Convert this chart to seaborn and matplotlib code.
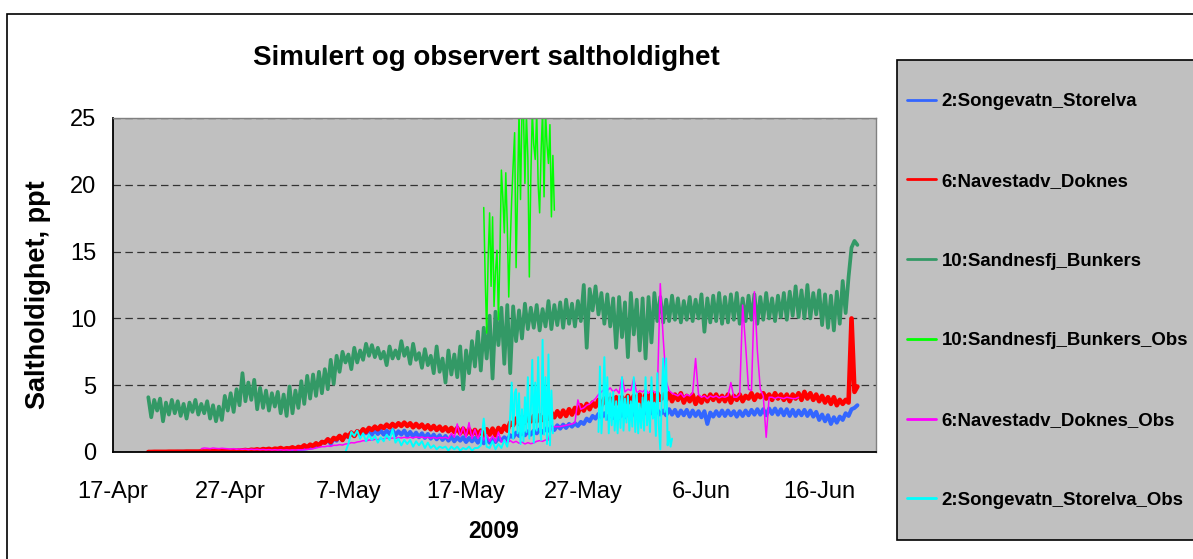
import numpy as np
import pandas as pd
import matplotlib.pyplot as plt
import matplotlib.dates as mdates
from matplotlib.lines import Line2D
from matplotlib.patches import Rectangle
from matplotlib.ticker import FuncFormatter
import seaborn as sns

sns.set_style("white")
plt.rcParams['font.family'] = ['Liberation Sans', 'DejaVu Sans']
plt.rcParams['text.color'] = 'black'
plt.rcParams['xtick.color'] = 'black'
plt.rcParams['ytick.color'] = 'black'
plt.rcParams['xtick.labelcolor'] = 'black'
plt.rcParams['ytick.labelcolor'] = 'black'

# ---- data (salinity, ppt) ----
# simulated series: 6-hourly from 2009-04-20 00:00
sim_start = "2009-04-20 00:00"

sim_bunkers = [
    4.1, 2.6, 3.9, 3.1,  4.0, 2.3, 3.7, 2.8,  3.9, 2.9, 3.8, 2.7,  3.6, 2.5, 3.7, 3.0,
    3.9, 2.8, 3.6, 2.9,  3.8, 2.5, 3.5, 2.3,  3.4, 2.4, 4.2, 3.1,  4.4, 3.0, 4.7, 3.5,
    5.9, 3.8, 5.2, 3.9,  5.4, 3.2, 4.8, 3.3,  4.6, 3.1, 4.4, 3.4,               # Apr 20-30
    4.5, 2.9, 4.3, 2.7,  4.9, 2.9, 4.6, 3.3,  5.3, 3.6, 5.7, 4.0,  5.8, 4.2, 6.0, 4.4,
    6.2, 4.7, 6.9, 5.1,  7.2, 6.0, 7.5, 6.7,  7.3, 6.2, 7.8, 6.7,  7.6, 6.9, 8.1, 7.2,
    8.0, 7.1, 7.8, 7.0,  7.5, 6.5, 7.9, 7.0,  7.6, 7.0, 8.3, 7.2,  7.8, 6.6, 8.1, 6.9,
    7.4, 6.3, 7.7, 6.5,  7.2, 5.9, 7.9, 6.0,  7.0, 5.2, 7.6, 5.8,  7.3, 5.6, 7.9, 4.7,
    7.6, 5.9, 8.3, 6.4,  9.0, 6.1, 9.3, 7.0, 10.2, 5.5, 10.5, 8.0, 10.8, 6.6, 11.0, 5.9,
    10.9, 8.3, 10.6, 8.5, 11.1, 9.2, 10.8, 9.3, 11.0, 9.1, 10.7, 9.4, 11.3, 9.2, 11.0, 9.5,
    11.2, 9.3, 11.4, 9.6, 11.1, 9.4, 11.3, 9.8, 12.5, 7.8, 12.2, 10.6, 12.4, 10.3, 11.9, 9.6,
    11.8, 9.4, 11.5, 7.8, 11.6, 8.6, 11.2, 7.1, 11.9, 8.8, 11.4, 7.6,          # May 1-31
    11.5, 7.0, 11.6, 8.2, 11.9, 9.8, 11.6, 9.7, 11.4, 9.8, 11.7, 9.9, 11.5, 9.7, 11.3, 9.9,
    11.6, 9.8, 11.4, 10.0, 11.8, 9.0, 11.5, 9.7, 11.7, 9.8, 11.9, 9.6, 11.6, 9.7, 11.8, 9.9,
    11.9, 9.6, 11.5, 9.8, 11.7, 9.9, 11.8, 9.6, 11.6, 9.9, 11.9, 10.0, 11.5, 9.8, 11.7, 10.1,
    11.9, 9.9, 12.0, 10.2, 12.4, 10.1, 12.1, 10.0, 12.5, 10.0, 11.9, 10.3, 12.1, 9.5, 11.8, 9.3,
    11.7, 9.1, 12.0, 9.6, 12.8, 10.4, 13.1, 15.3,                             # Jun 1-18
    15.8, 15.5,
]

sim_doknes = [
    0.00, 0.00, 0.01, 0.01, 0.01, 0.01, 0.01, 0.02, 0.02, 0.02, 0.02, 0.02, 0.02, 0.03, 0.03, 0.03,
    0.03, 0.03, 0.04, 0.04, 0.04, 0.05, 0.05, 0.05, 0.06, 0.06, 0.07, 0.07, 0.08, 0.10, 0.09, 0.12,
    0.12, 0.15, 0.11, 0.17, 0.15, 0.20, 0.14, 0.22, 0.18, 0.24, 0.16, 0.25,
    0.22, 0.30, 0.20, 0.28, 0.26, 0.35, 0.24, 0.38, 0.32, 0.50, 0.35, 0.55, 0.45, 0.65, 0.50, 0.75,
    0.70, 0.95, 0.75, 1.05, 0.95, 1.20, 0.90, 1.30, 1.15, 1.45, 1.20, 1.55, 1.40, 1.70, 1.50, 1.80,
    1.65, 1.90, 1.70, 1.95, 1.80, 2.05, 1.85, 2.10, 1.90, 2.15, 1.95, 2.20, 1.95, 2.15, 1.85, 2.10,
    1.85, 2.05, 1.75, 2.00, 1.70, 1.95, 1.65, 1.90, 1.60, 1.85, 1.55, 1.80, 1.50, 1.80, 1.40, 1.75,
    1.35, 1.70, 1.30, 1.65, 1.25, 1.60, 1.20, 1.70, 1.30, 1.75, 1.25, 1.80, 1.50, 1.95, 1.60, 2.20,
    2.00, 2.50, 2.10, 2.60, 2.20, 2.60, 2.30, 2.70, 2.30, 2.75, 2.40, 2.80, 2.50, 2.95, 2.60, 3.05,
    2.65, 3.10, 2.70, 3.20, 2.80, 3.30, 2.90, 3.50, 3.10, 3.60, 3.20, 3.70, 3.40, 3.90, 3.50, 4.00,
    3.50, 4.00, 3.60, 4.10, 3.60, 4.10, 3.70, 4.20, 3.70, 4.20, 3.80, 4.30,
    3.40, 4.30, 3.90, 4.50, 3.80, 4.40, 3.90, 4.30, 3.90, 4.40, 3.80, 4.30, 3.90, 4.40, 3.70, 4.20,
    3.80, 4.30, 3.60, 4.10, 3.70, 4.20, 3.80, 4.30, 3.90, 4.30, 3.80, 4.20, 3.80, 4.30, 3.70, 4.20,
    3.90, 4.30, 3.80, 4.20, 4.00, 4.40, 3.90, 4.30, 4.10, 4.40, 4.00, 4.30, 3.90, 4.40, 4.00, 4.30,
    3.90, 4.30, 3.80, 4.30, 4.00, 4.40, 3.90, 4.50, 4.00, 4.40, 3.90, 4.30, 3.80, 4.20, 3.70, 4.10,
    3.60, 4.10, 3.50, 3.90, 3.60, 3.90, 3.70, 10.0,
    4.50, 4.90,
]

sim_storelva = [
    0.00, 0.00, 0.00, 0.00, 0.00, 0.00, 0.00, 0.00, 0.00, 0.00, 0.01, 0.01, 0.01, 0.01, 0.01, 0.01,
    0.01, 0.01, 0.02, 0.02, 0.02, 0.02, 0.02, 0.03, 0.03, 0.03, 0.04, 0.04, 0.04, 0.05, 0.05, 0.06,
    0.06, 0.07, 0.07, 0.08, 0.08, 0.09, 0.09, 0.10, 0.10, 0.11, 0.12, 0.13,
    0.13, 0.14, 0.15, 0.16, 0.17, 0.18, 0.20, 0.21, 0.23, 0.25, 0.28, 0.32, 0.36, 0.45, 0.55, 0.75,
    0.70, 0.95, 0.60, 1.00, 0.85, 1.20, 0.90, 1.25, 1.10, 1.45, 1.20, 1.55, 1.35, 1.65, 1.40, 1.70,
    1.30, 1.65, 1.35, 1.60, 1.30, 1.60, 1.35, 1.65, 1.25, 1.55, 1.30, 1.60, 1.20, 1.50, 1.15, 1.45,
    1.10, 1.40, 1.05, 1.35, 1.00, 1.30, 0.95, 1.25, 0.90, 1.20, 0.85, 1.15, 0.80, 1.10, 0.85, 1.10,
    0.75, 1.05, 0.80, 1.05, 0.70, 1.00, 0.65, 1.00, 0.70, 1.00, 0.75, 1.05, 0.85, 1.10, 0.90, 1.25,
    1.10, 1.45, 1.20, 1.50, 1.25, 1.55, 1.30, 1.60, 1.40, 1.70, 1.45, 1.75, 1.60, 1.90, 1.65, 2.00,
    1.75, 2.05, 1.80, 2.10, 1.90, 2.15, 1.95, 2.25, 2.10, 2.50, 2.30, 2.70, 2.50, 2.85, 2.60, 2.90,
    2.50, 2.85, 2.55, 2.90, 2.55, 2.90, 2.60, 2.95, 2.60, 3.00, 2.65, 3.00,
    2.70, 3.10, 2.75, 3.10, 2.70, 3.15, 2.80, 3.10, 2.75, 3.20, 2.80, 3.15, 2.70, 3.10, 2.75, 3.15,
    2.65, 3.10, 2.70, 3.05, 2.60, 3.05, 2.10, 2.95, 2.65, 3.05, 2.70, 3.10, 2.70, 3.10, 2.75, 3.05,
    2.65, 3.05, 2.70, 3.10, 2.75, 3.15, 2.80, 3.20, 2.80, 3.20, 2.75, 3.25, 2.85, 3.25, 2.80, 3.20,
    2.75, 3.20, 2.70, 3.15, 2.70, 3.10, 2.75, 3.15, 2.70, 3.10, 2.65, 3.00, 2.40, 2.80, 2.30, 2.75,
    2.10, 2.60, 2.20, 2.65, 2.40, 2.90, 2.70, 3.20,
    3.30, 3.50,
]

# observed: Bunkers, 3-hourly from 2009-05-18 12:00
obs_bunkers_start = "2009-05-18 12:00"
obs_bunkers = [
    18.3, 13.0, 8.9, 14.5, 17.9, 12.4, 17.6, 10.9, 13.5, 15.1, 9.9, 14.8, 21.1, 19.0, 16.4, 20.9,
    17.0, 11.6, 15.5, 18.9, 21.5, 23.9, 13.8, 19.5, 25.5, 18.9, 25.5, 25.5, 20.1, 25.3, 22.0, 13.1,
    20.5, 25.5, 23.0, 21.9, 25.5, 20.0, 17.9, 22.5, 25.5, 19.1, 25.5, 23.0, 21.6, 24.5, 17.6, 22.2,
    18.1,
]

# observed: Doknes, 6-hourly from 2009-04-24 12:00
obs_doknes_start = "2009-04-24 12:00"
obs_doknes = [
    0.25, 0.30,
    0.28, 0.25, 0.30, 0.27, 0.25, 0.28, 0.26, 0.24, 0.22, 0.25, 0.20, 0.23, 0.20, 0.22, 0.18, 0.21,
    0.18, 0.20, 0.17, 0.19, 0.16, 0.18, 0.15, 0.17,
    0.15, 0.17, 0.14, 0.16, 0.14, 0.16, 0.15, 0.17, 0.16, 0.18, 0.20, 0.22, 0.25, 0.30, 0.35, 0.40,
    0.40, 0.45, 0.42, 0.50, 0.50, 0.55, 0.52, 0.60, 0.62, 0.70, 0.68, 0.75, 0.78, 0.85, 0.82, 0.90,
    0.88, 0.95, 0.92, 1.00, 0.98, 1.05, 1.00, 1.05, 1.02, 1.08, 1.05, 1.10, 1.05, 1.10, 1.06, 1.12,
    1.08, 1.12, 1.05, 1.10, 1.04, 1.10, 1.02, 1.08, 1.05, 1.10, 1.00, 1.40, 1.10, 2.10, 1.20, 1.90,
    1.10, 2.20, 1.00, 1.70, 1.00, 1.60, 0.90, 1.30, 0.80, 1.20, 0.75, 1.50, 0.75, 0.90, 0.70, 0.85,
    0.70, 0.80, 0.65, 0.75, 0.60, 0.70, 0.62, 0.68, 0.80, 0.85, 0.80, 0.90, 0.90, 1.80, 1.90, 1.90,
    1.90, 1.95, 2.00, 2.05, 2.10, 2.20, 3.90, 3.20, 3.30, 3.50, 3.60, 3.80, 4.00, 4.30, 4.50, 4.70,
    4.60, 4.80, 4.50, 4.70, 4.40, 5.60, 4.50, 4.70, 4.60, 5.50, 4.40, 4.60,
    4.50, 4.70, 4.40, 4.60, 4.50, 4.40, 12.6, 8.50, 5.30, 4.60, 4.40, 4.30, 4.20, 4.40, 4.10, 4.30,
    4.20, 4.40, 7.00, 4.30, 4.10, 4.20, 4.00, 4.20, 4.10, 4.20, 4.05, 4.15, 4.10, 4.20, 5.20, 4.10,
    4.10, 4.30, 11.0, 8.00, 4.70, 4.60, 12.0, 7.60, 4.70, 4.20, 1.10, 4.10, 4.10, 4.00, 4.10, 4.05,
    4.00, 4.10, 4.05, 4.00,
    4.00, 4.10,
]

# observed: Storelva, 6-hourly from 2009-05-06 18:00, then 3-hourly bursts
obs_storelva_a_start = "2009-05-06 18:00"
obs_storelva_a = [
    0.0,
    0.6, 1.5, 1.2, 1.6, 1.0, 1.4, 0.8, 1.3, 0.9, 1.2, 0.7, 1.1, 0.8, 1.3, 0.9, 1.7,
    0.7, 1.0, 0.5, 0.9, 0.6, 0.9, 0.4, 0.8, 0.5, 0.8, 0.3, 0.7, 0.3, 0.5, 0.2, 0.4,
    0.3, 0.4, 0.1, 0.4, 0.2, 0.4, 0.1, 0.3, 0.2, 0.4, 0.1, 0.3, 0.3, 0.5, 2.5, 0.4,
    0.3, 0.8, 0.2, 0.6, 0.3, 0.9, 0.4,
]
obs_storelva_b_start = "2009-05-20 15:00"
obs_storelva_b = [
    1.2, 2.8, 5.2, 1.0, 4.4, 4.7, 1.4, 4.4, 0.6, 3.2, 0.8, 4.1, 1.5, 5.6, 1.0, 3.0,
    6.9, 0.7, 5.2, 1.6, 7.1, 2.0, 0.9, 8.4, 1.3, 5.6, 0.6, 7.3, 0.5, 4.6, 1.4,
]
obs_storelva_c_start = "2009-05-28 06:00"
obs_storelva_c = [
    1.5, 6.4, 1.4, 3.5, 7.1, 2.4, 5.6, 1.4, 4.4, 2.0, 4.5, 1.6, 3.8, 1.4,
    4.2, 1.8, 5.6, 1.6, 4.0, 2.2, 4.2, 1.6, 3.8, 1.9, 5.6, 1.5, 4.4, 1.4, 3.6, 1.8,
    4.1, 1.6, 5.6, 2.0, 3.8, 1.5, 5.6, 2.5, 3.7, 1.2, 5.9, 2.0, 0.2, 4.0, 7.0, 3.0,
    7.0, 0.5, 1.5, 0.4, 1.0,
]

labels = ["2:Songevatn_Storelva", "6:Navestadv_Doknes", "10:Sandnesfj_Bunkers",
          "10:Sandnesfj_Bunkers_Obs", "6:Navestadv_Doknes_Obs", "2:Songevatn_Storelva_Obs"]
colors = ["#3366FF", "#FF0000", "#339966", "#00FF00", "#FF00FF", "#00FFFF"]
widths = [2.9, 3.3, 2.7, 1.1, 1.1, 1.4]


def frame(start, freq, values, unit=0):
    return pd.DataFrame({"time": pd.date_range(start, periods=len(values), freq=freq),
                         "salt": values, "unit": unit})


frames = [
    frame(sim_start, "6h", sim_storelva),
    frame(sim_start, "6h", sim_doknes),
    frame(sim_start, "6h", sim_bunkers),
    frame(obs_bunkers_start, "3h", obs_bunkers),
    frame(obs_doknes_start, "6h", obs_doknes),
    pd.concat([frame(obs_storelva_a_start, "6h", obs_storelva_a),
               frame(obs_storelva_b_start, "3h", obs_storelva_b),
               frame(obs_storelva_c_start, "3h", obs_storelva_c, unit=1)]),
]

W, H = 1193, 559
fig = plt.figure(figsize=(W / 100, H / 100), dpi=100)
ax = fig.add_axes([113 / W, 1 - 452 / H, (876 - 113) / W, (452 - 118) / H])
ax.set_facecolor("#C0C0C0")

for df, lab, col, lw in zip(frames, labels, colors, widths):
    sns.lineplot(data=df, x="time", y="salt", units="unit", estimator=None,
                 color=col, linewidth=lw, ax=ax, legend=False, sort=False)

t0 = pd.Timestamp("2009-04-17")
ax.set_xlim(t0, t0 + pd.Timedelta(days=64.83))
ax.set_ylim(0, 25)
ax.set_xticks(pd.date_range(t0, periods=7, freq="10D"))
ax.xaxis.set_major_formatter(FuncFormatter(
    lambda v, p: f"{mdates.num2date(v).day}-{mdates.num2date(v):%b}"))
ax.set_yticks(range(0, 26, 5))
ax.set_xlabel("")
ax.set_ylabel("")
ax.yaxis.grid(True, color="#333333", linewidth=0.9, linestyle=(0, (6, 3.5)))
ax.xaxis.grid(False)
ax.tick_params(axis="x", direction="out", length=6, width=1, labelsize=17, pad=15,
               color="black", labelcolor="black")
ax.tick_params(axis="y", direction="out", length=5, width=1, labelsize=17, pad=7,
               color="black", labelcolor="black")
for s in ["left", "bottom"]:
    ax.spines[s].set_color("black")
    ax.spines[s].set_linewidth(1.3)
for s in ["top", "right"]:
    ax.spines[s].set_color("#808080")
    ax.spines[s].set_linewidth(1.0)

fig.text(486 / W, 1 - 58 / H, "Simulert og observert saltholdighet",
         fontsize=20, fontweight="bold", ha="center", va="center", color="black")
fig.text(494 / W, 1 - 532 / H, "2009", fontsize=16.5, fontweight="bold",
         ha="center", va="center", color="black")
fig.text(38 / W, 1 - 295 / H, "Saltholdighet, ppt", fontsize=19.5, fontweight="bold",
         rotation=90, ha="center", va="center", color="black")

# outer chart border and legend box
fig.add_artist(Rectangle((7 / W, -0.1), 1.2, 1 - 14 / H + 0.1, transform=fig.transFigure,
                         fill=False, edgecolor="black", linewidth=1.2))
fig.add_artist(Rectangle((897 / W, 1 - 540 / H), 0.4, (540 - 60) / H, transform=fig.transFigure,
                         facecolor="#C0C0C0", edgecolor="black", linewidth=1.2))

handles = [Line2D([], [], color=c, linewidth=2) for c in colors]
leg = fig.legend(handles, labels, loc="upper left", bbox_to_anchor=(907 / W, 1 - 93 / H),
                 frameon=False, prop={"weight": "bold", "size": 13.4}, labelspacing=3.37,
                 handlelength=1.55, handletextpad=0.3, borderpad=0, borderaxespad=0)
for t in leg.get_texts():
    t.set_color("black")

fig.savefig("out.png", dpi=100)
